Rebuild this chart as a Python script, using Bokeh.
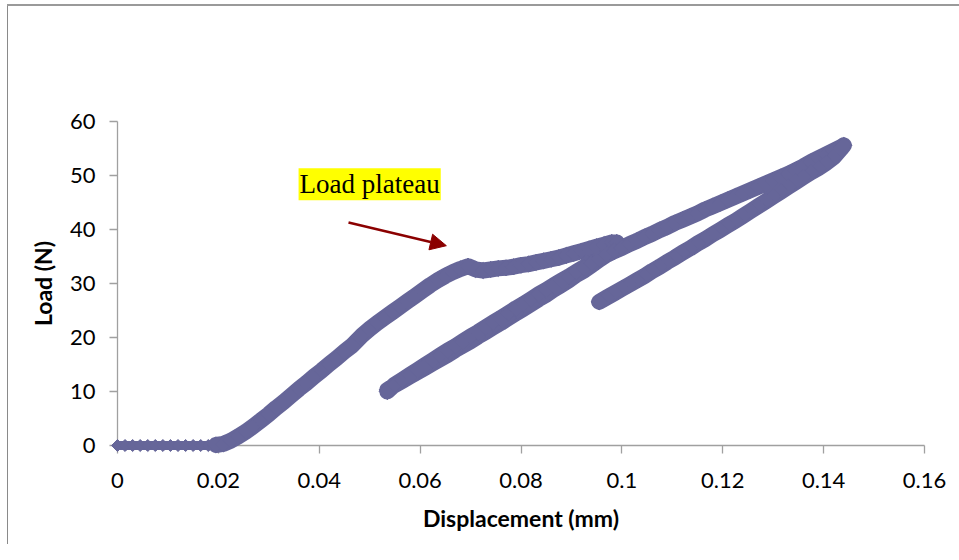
import numpy as np
from bokeh.plotting import figure
from bokeh.models import Range1d, Label, Arrow, NormalHead, FixedTicker, ColumnDataSource
from bokeh.embed import file_html
from bokeh.resources import INLINE

# ---- data ----
# initial loading up to the load plateau
disp_load1 = [0.0, 0.0015, 0.003, 0.0045, 0.006, 0.0075, 0.009, 0.0105, 0.012, 0.0135,
              0.015, 0.0165, 0.018, 0.0195,
              0.021, 0.0225, 0.024, 0.0255, 0.027, 0.0285, 0.030, 0.0315, 0.033, 0.0345,
              0.036, 0.0375, 0.039, 0.0405, 0.042, 0.0435, 0.045, 0.0465,
              0.0485, 0.050, 0.0515, 0.053, 0.0545, 0.056, 0.0575, 0.059, 0.0605, 0.062,
              0.0635, 0.065, 0.0665, 0.068, 0.0695, 0.071, 0.0725, 0.074, 0.0755, 0.077,
              0.0785, 0.080, 0.0815, 0.083, 0.0845, 0.086, 0.0875, 0.089, 0.0905, 0.092,
              0.0935, 0.095, 0.0965, 0.098, 0.099]
force_load1 = [0, 0, 0, 0, 0, 0, 0, 0, 0, 0,
               0, 0, 0, 0.1,
               0.3, 0.9, 1.7, 2.6, 3.6, 4.7, 5.8, 7.0, 8.1, 9.3,
               10.5, 11.6, 12.8, 13.9, 15.1, 16.2, 17.4, 18.5,
               20.4, 21.6, 22.7, 23.7, 24.7, 25.7, 26.7, 27.7, 28.7, 29.7,
               30.6, 31.4, 32.1, 32.7, 33.2, 32.6, 32.4, 32.6, 32.8, 32.9,
               33.1, 33.4, 33.6, 33.9, 34.2, 34.5, 34.8, 35.2, 35.6, 36.0,
               36.4, 36.8, 37.2, 37.6, 37.6]

# first unloading
disp_unload1 = [0.0985, 0.097, 0.0955, 0.094, 0.0925, 0.091, 0.0895, 0.088, 0.0865, 0.085,
                0.0835, 0.082, 0.0805, 0.079, 0.0775, 0.076, 0.0745, 0.073, 0.0715, 0.070,
                0.0685, 0.067, 0.0655, 0.064, 0.0625, 0.061, 0.0595, 0.058, 0.0565, 0.055,
                0.0535]
force_unload1 = [36.2, 35.3, 34.4, 33.4, 32.4, 31.6, 30.6, 29.7, 28.9, 27.9,
                 27.1, 26.2, 25.3, 24.5, 23.6, 22.7, 21.9, 21.0, 20.2, 19.3,
                 18.5, 17.7, 16.8, 16.0, 15.2, 14.4, 13.6, 12.8, 12.0, 11.2,
                 10.3]

# reloading to the maximum
disp_load2 = [0.0535, 0.055, 0.0565, 0.058, 0.0595, 0.061, 0.0625, 0.064, 0.0655, 0.067,
              0.0685, 0.070, 0.0715, 0.073, 0.0745, 0.076, 0.0775, 0.079, 0.0805, 0.082,
              0.0835, 0.085, 0.0865, 0.088, 0.0895, 0.091, 0.0925, 0.094, 0.0955, 0.097,
              0.0985, 0.100, 0.1015, 0.103, 0.1045, 0.106, 0.1075, 0.109, 0.1105, 0.112,
              0.1135, 0.115, 0.1165, 0.118, 0.1195, 0.121, 0.1225, 0.124, 0.1255, 0.127,
              0.1285, 0.130, 0.1315, 0.133, 0.1345, 0.136, 0.1375, 0.139, 0.1405, 0.142,
              0.1435, 0.144]
force_load2 = [10.0, 11.3, 12.2, 13.1, 14.0, 14.9, 15.8, 16.7, 17.6, 18.4,
               19.3, 20.2, 21.0, 21.9, 22.8, 23.6, 24.5, 25.4, 26.2, 27.1,
               28.0, 28.8, 29.7, 30.5, 31.3, 32.2, 33.0, 33.8, 34.6, 35.3,
               36.0, 36.6, 37.3, 37.9, 38.6, 39.2, 39.9, 40.5, 41.2, 41.8,
               42.4, 43.0, 43.7, 44.3, 44.9, 45.5, 46.1, 46.7, 47.3, 47.9,
               48.5, 49.1, 49.7, 50.3, 51.0, 51.7, 52.5, 53.2, 53.9, 54.6,
               55.3, 55.6]

# final unloading
disp_unload2 = [0.1435, 0.142, 0.1405, 0.139, 0.1375, 0.136, 0.1345, 0.133, 0.1315, 0.130,
                0.1285, 0.127, 0.1255, 0.124, 0.1225, 0.121, 0.1195, 0.118, 0.1165, 0.115,
                0.1135, 0.112, 0.1105, 0.109, 0.1075, 0.106, 0.1045, 0.103, 0.1015, 0.100,
                0.0985, 0.097, 0.0955]
force_unload2 = [55.0, 53.4, 52.3, 51.4, 50.6, 49.7, 48.8, 47.9, 47.0, 46.1,
                 45.2, 44.3, 43.4, 42.5, 41.6, 40.8, 39.9, 39.1, 38.2, 37.4,
                 36.5, 35.7, 34.8, 34.0, 33.1, 32.3, 31.4, 30.6, 29.8, 29.0,
                 28.2, 27.4, 26.6]

x_ticks = [0, 0.02, 0.04, 0.06, 0.08, 0.1, 0.12, 0.14, 0.16]
x_tick_labels = ["0", "0.02", "0.04", "0.06", "0.08", "0.1", "0.12", "0.14", "0.16"]
y_ticks = [0, 10, 20, 30, 40, 50, 60]

x_title = "Displacement (mm)"
y_title = "Load (N)"
note_text = "Load plateau"

# ---- styling ----
SERIES = "#666699"
AXIS = "#a0a0a0"
FONT = "Lato"

disp_all = disp_load1 + disp_unload1 + disp_load2 + disp_unload2
force_all = force_load1 + force_unload1 + force_load2 + force_unload2
n_flat = 14
flat_src = ColumnDataSource(dict(x=disp_all[:n_flat], y=force_all[:n_flat]))
rest_src = ColumnDataSource(dict(x=disp_all[n_flat - 1:], y=force_all[n_flat - 1:]))

# chart-area edge at top and left (the rest of the chart area runs past the window)
chart_area_edge = ("linear-gradient(#9a9a9a, #9a9a9a) left top / 100% 2px no-repeat, "
                   "linear-gradient(#8a8a8a, #8a8a8a) left top / 1px 100% no-repeat, white")

p = figure(width=952, height=540, output_backend="svg", toolbar_location=None,
           x_range=Range1d(0, 0.16), y_range=Range1d(0, 60),
           min_border_left=110, min_border_right=35, min_border_top=117, min_border_bottom=99,
           background_fill_color="white", border_fill_color=None,
           styles={"margin-left": "7px", "margin-top": "4px", "background": chart_area_edge})
p.outline_line_color = None
p.xgrid.visible = False
p.ygrid.visible = False

# data band: connecting line + diamond markers (drawn unclipped, over the axes)
p.line("x", "y", source=flat_src, line_color=SERIES, line_width=9, line_cap="round",
       line_join="round", level="overlay")
p.scatter("x", "y", source=flat_src, marker="square", angle=np.pi / 4, size=8.5,
          fill_color=SERIES, line_color=SERIES, level="overlay")
p.line("x", "y", source=rest_src, line_color=SERIES, line_width=16, line_cap="round",
       line_join="round", level="overlay")
p.scatter("x", "y", source=rest_src, marker="square", angle=np.pi / 4, size=11.5,
          fill_color=SERIES, line_color=SERIES, level="overlay")

# axes
for ax in (p.xaxis[0], p.yaxis[0]):
    ax.axis_line_color = AXIS
    ax.axis_line_width = 1.3
    ax.major_tick_line_color = AXIS
    ax.major_tick_line_width = 1.3
    ax.major_tick_in = 0
    ax.major_tick_out = 8
    ax.minor_tick_line_color = None
    ax.major_label_text_font = FONT
    ax.major_label_text_font_size = "22px"
    ax.major_label_text_color = "black"
    ax.axis_label_text_font = FONT
    ax.axis_label_text_font_size = "23px"
    ax.axis_label_text_font_style = "bold"
    ax.axis_label_text_color = "black"

p.xaxis.ticker = FixedTicker(ticks=x_ticks)
p.xaxis.major_label_overrides = {t: s for t, s in zip(x_ticks, x_tick_labels)}
p.yaxis.ticker = FixedTicker(ticks=y_ticks)
p.xaxis.axis_label = x_title
p.yaxis.axis_label = y_title
p.xaxis.major_label_standoff = 19
p.yaxis.major_label_standoff = 14
p.xaxis.axis_label_standoff = 13
p.yaxis.axis_label_standoff = 10

# annotation
note = Label(x=0.0359, y=48.4, text=note_text, text_font="Liberation Serif",
             text_font_size="27px", text_color="black", text_align="left",
             text_baseline="middle", background_fill_color="#ffff00", padding=1)
p.add_layout(note)
arrow = Arrow(x_start=0.0458, y_start=41.3, x_end=0.0652, y_end=37.0,
              line_color="#8b0000", line_width=2.5,
              end=NormalHead(size=16, fill_color="#8b0000", line_color="#8b0000"))
p.add_layout(arrow)

open("out.html", "w").write(file_html(p, INLINE))
